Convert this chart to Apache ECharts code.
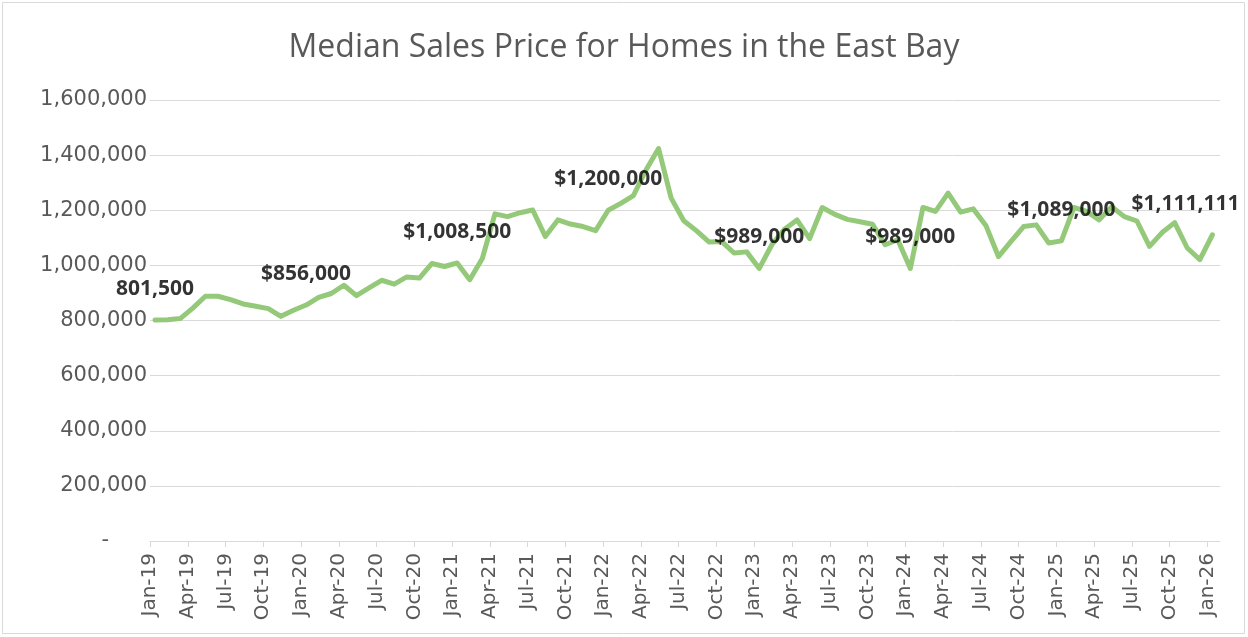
<!DOCTYPE html>
<html>
<head>
<meta charset="utf-8">
<script src="https://cdn.jsdelivr.net/npm/echarts@6/dist/echarts.min.js"></script>
<style>
  html, body { margin: 0; padding: 0; background: #fff; }
  #chart { width: 1248px; height: 637px; }
</style>
</head>
<body>
<div id="chart"></div>
<script>
// month labels on the x axis, one every 3 months starting Jan-19
const tickLabels = [
  'Jan-19', 'Apr-19', 'Jul-19', 'Oct-19',
  'Jan-20', 'Apr-20', 'Jul-20', 'Oct-20',
  'Jan-21', 'Apr-21', 'Jul-21', 'Oct-21',
  'Jan-22', 'Apr-22', 'Jul-22', 'Oct-22',
  'Jan-23', 'Apr-23', 'Jul-23', 'Oct-23',
  'Jan-24', 'Apr-24', 'Jul-24', 'Oct-24',
  'Jan-25', 'Apr-25', 'Jul-25', 'Oct-25',
  'Jan-26'
];

// monthly median price, Jan-19 .. Jan-26
const prices = [
  801500, 803000, 807000, 845000, 888000, 888000, 876000, 860000, 852000, 843000, 815000, 837000,
  856000, 884000, 898000, 928000, 890000, 918000, 946000, 932000, 958000, 954000, 1007000, 996000,
  1008500, 948000, 1025000, 1187000, 1177000, 1191000, 1201000, 1105000, 1165000, 1150000, 1141000, 1126000,
  1200000, 1225000, 1253000, 1346000, 1424000, 1244000, 1162000, 1126000, 1085000, 1087000, 1045000, 1049000,
  989000, 1075000, 1131000, 1165000, 1097000, 1210000, 1185000, 1167000, 1158000, 1149000, 1075000, 1093000,
  989000, 1210000, 1196000, 1262000, 1193000, 1205000, 1145000, 1032000, 1087000, 1141000, 1147000, 1081000,
  1089000, 1210000, 1196000, 1165000, 1213000, 1177000, 1161000, 1069000, 1119000, 1155000, 1063000, 1021000,
  1111111
];

// labelled points (month index) and their text
const labelMonths = [0, 12, 24, 36, 48, 60, 72, 84];
const labelTexts = ['801,500', '$856,000', '$1,008,500', '$1,200,000', '$989,000', '$989,000', '$1,089,000', '$1,111,111'];

const midMonth = 0.4; // points sit a bit into each month

const chart = echarts.init(document.getElementById('chart'));

const lineData = prices.map((v, i) => [i + midMonth, v]);

// only the labelled months, drawn as invisible points carrying the text
const labelData = labelMonths.map((m, k) => ({
  value: [m + midMonth, prices[m]],
  label: { formatter: labelTexts[k], offset: m === 84 ? [-27, 0] : [0, 0] }
}));

const axisFont = 'DejaVu Sans';

chart.setOption({
  animation: false,
  title: {
    text: 'Median Sales Price for Homes in the East Bay',
    left: 'center',
    top: 27,
    textStyle: { fontFamily: 'Open Sans', fontSize: 32, fontWeight: 'normal', color: '#595959' }
  },
  graphic: [{
    type: 'rect',
    shape: { x: 2.5, y: 2.5, width: 1242, height: 631 },
    style: { fill: 'none', stroke: '#d9d9d9', lineWidth: 1 },
    silent: true
  }],
  grid: { left: 150, right: 28, top: 100, bottom: 96 },
  xAxis: {
    type: 'value',
    min: 0,
    max: 85,
    interval: 3,
    axisLine: { lineStyle: { color: '#d9d9d9', width: 1 } },
    axisTick: { show: true, length: 6, lineStyle: { color: '#d9d9d9' } },
    splitLine: { show: false },
    axisLabel: {
      rotate: 90,
      margin: 12,
      showMaxLabel: false,
      fontFamily: axisFont,
      fontSize: 20,
      color: '#595959',
      formatter: v => tickLabels[v / 3] || ''
    }
  },
  yAxis: {
    type: 'value',
    min: 0,
    max: 1600000,
    interval: 200000,
    axisLine: { show: false },
    axisTick: { show: false },
    splitLine: { lineStyle: { color: '#d9d9d9', width: 1 } },
    axisLabel: {
      margin: 3,
      fontFamily: axisFont,
      fontSize: 21,
      color: '#595959',
      formatter: v => v === 0 ? '{z|-}' : v.toLocaleString('en-US'),
      rich: { z: { fontFamily: axisFont, fontSize: 21, color: '#595959', padding: [0, 38, 0, 0] } }
    }
  },
  series: [{
    type: 'line',
    data: lineData,
    symbol: 'none',
    lineStyle: { color: '#95c97a', width: 5, join: 'round', cap: 'round' },
    z: 2
  }, {
    type: 'scatter',
    data: labelData,
    symbolSize: 1,
    itemStyle: { color: 'rgba(0,0,0,0)' },
    z: 3,
    label: {
      show: true,
      position: 'top',
      distance: 20,
      fontFamily: 'Open Sans',
      fontWeight: 'bold',
      fontSize: 21,
      color: '#000000'
    }
  }]
});
</script>
</body>
</html>
